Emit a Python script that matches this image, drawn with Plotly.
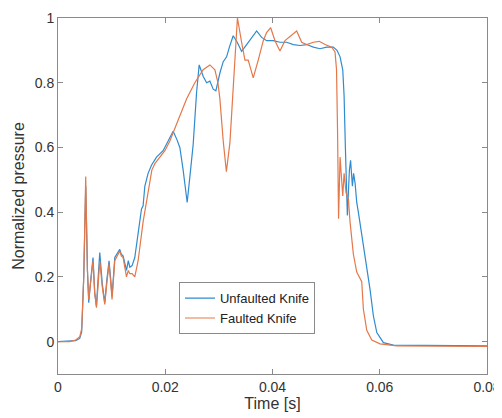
import plotly.graph_objects as go

# Unfaulted Knife (blue)
t_unfaulted = [0.0, 0.0033, 0.00405, 0.00442, 0.0048, 0.00517, 0.00549, 0.00573, 0.0061, 0.00653,
               0.00685, 0.00717, 0.0075, 0.00779, 0.00825, 0.00872, 0.0091, 0.00952, 0.00984, 0.01008,
               0.01059, 0.0112, 0.01152, 0.0118, 0.01214, 0.01277, 0.01311, 0.01339, 0.01382, 0.01432,
               0.01494, 0.01557, 0.01587, 0.01619, 0.0168, 0.01743, 0.01837, 0.0196, 0.02054, 0.02147,
               0.02216, 0.02272, 0.02334, 0.02409, 0.02472, 0.02521, 0.02584, 0.02633, 0.02707, 0.02771,
               0.02832, 0.02894, 0.02944, 0.03019, 0.03081, 0.03144, 0.03196, 0.03267, 0.03342, 0.03424,
               0.03518, 0.03611, 0.03704, 0.03798, 0.03891, 0.04014, 0.04139, 0.04264, 0.04388, 0.04513,
               0.04638, 0.04761, 0.04886, 0.05011, 0.05134, 0.05203, 0.0526, 0.0531, 0.05335, 0.05359,
               0.05396, 0.05434, 0.05456, 0.0549, 0.05512, 0.0554, 0.05571, 0.05601, 0.05695, 0.05788,
               0.0582, 0.05881, 0.05945, 0.06068, 0.06255, 0.08]
p_unfaulted = [0.0, 0.003, 0.01, 0.03, 0.2, 0.48, 0.22, 0.12, 0.19, 0.26,
               0.15, 0.11, 0.2, 0.275, 0.18, 0.12, 0.19, 0.25, 0.19, 0.14,
               0.26, 0.275, 0.285, 0.27, 0.265, 0.22, 0.25, 0.23, 0.235, 0.26,
               0.33, 0.41, 0.42, 0.48, 0.52, 0.545, 0.57, 0.59, 0.62, 0.65,
               0.625, 0.6, 0.53, 0.43, 0.53, 0.61, 0.77, 0.855, 0.82, 0.8,
               0.805, 0.78, 0.775, 0.83, 0.865, 0.88, 0.91, 0.945, 0.925, 0.897,
               0.918, 0.94, 0.96, 0.94, 0.93, 0.93, 0.925, 0.925, 0.918, 0.915,
               0.918, 0.91, 0.905, 0.91, 0.91, 0.9, 0.88, 0.84, 0.76, 0.6,
               0.39, 0.53, 0.56, 0.48, 0.52, 0.49, 0.43, 0.4, 0.295, 0.2,
               0.16, 0.08, 0.028, -0.003, -0.011, -0.013]

# Faulted Knife (orange)
t_faulted = [0.0, 0.00218, 0.0033, 0.00405, 0.00442, 0.0048, 0.00517, 0.00549, 0.00573, 0.0061,
             0.00653, 0.00685, 0.00717, 0.0075, 0.00779, 0.00825, 0.00872, 0.0091, 0.00952, 0.00984,
             0.01008, 0.01059, 0.0112, 0.01152, 0.0118, 0.01214, 0.01277, 0.01311, 0.01339, 0.01382,
             0.01432, 0.01494, 0.01587, 0.0168, 0.0175, 0.01806, 0.019, 0.01993, 0.02086, 0.02147,
             0.02272, 0.02397, 0.02552, 0.02707, 0.02832, 0.02926, 0.02982, 0.03019, 0.03081, 0.0314,
             0.03206, 0.03267, 0.03308, 0.03346, 0.03424, 0.03486, 0.03547, 0.03641, 0.03734, 0.03828,
             0.0389, 0.03966, 0.04046, 0.04139, 0.04233, 0.04339, 0.04451, 0.04544, 0.04638, 0.04761,
             0.04873, 0.0498, 0.05105, 0.05166, 0.05194, 0.05213, 0.05232, 0.0526, 0.05284, 0.0531,
             0.05335, 0.05372, 0.05415, 0.05446, 0.05508, 0.05571, 0.05664, 0.05695, 0.05758, 0.05851,
             0.06006, 0.06318, 0.08]
p_faulted = [0.0, 0.0, 0.005, 0.015, 0.04, 0.2, 0.51, 0.22, 0.13, 0.18,
             0.25, 0.15, 0.105, 0.18, 0.25, 0.17, 0.115, 0.18, 0.24, 0.18,
             0.13, 0.25, 0.27, 0.28, 0.265, 0.26, 0.2, 0.22, 0.21, 0.21,
             0.2, 0.25, 0.37, 0.47, 0.53, 0.55, 0.57, 0.59, 0.62, 0.645,
             0.7, 0.75, 0.8, 0.84, 0.855, 0.84, 0.8, 0.75, 0.62, 0.525,
             0.615, 0.77, 0.9, 1.0, 0.925, 0.87, 0.87, 0.815, 0.87, 0.93,
             0.955, 0.97, 0.93, 0.898, 0.93, 0.944, 0.96, 0.925, 0.918, 0.925,
             0.928, 0.918, 0.91, 0.895, 0.84, 0.65, 0.38, 0.57, 0.52, 0.45,
             0.52, 0.46, 0.44, 0.37, 0.27, 0.215, 0.185, 0.1, 0.035, 0.005,
             -0.007, -0.013, -0.015]

x_ticks = [0, 0.02, 0.04, 0.06, 0.08]
x_tick_labels = ["0", "0.02", "0.04", "0.06", "0.08"]
y_ticks = [0, 0.2, 0.4, 0.6, 0.8, 1]
y_tick_labels = ["0", "0.2", "0.4", "0.6", "0.8", "1"]

blue = "#2f8bd0"
orange = "#e4784a"
axis_grey = "#8a8a8a"
text_col = "#333333"
font_family = "Liberation Sans, Arial, sans-serif"

fig = go.Figure()
fig.add_trace(go.Scatter(x=t_unfaulted, y=p_unfaulted, mode="lines", name="Unfaulted Knife",
                         line=dict(color=blue, width=1.2)))
fig.add_trace(go.Scatter(x=t_faulted, y=p_faulted, mode="lines", name="Faulted Knife",
                         line=dict(color=orange, width=1.2)))

axis_common = dict(showline=True, linecolor=axis_grey, linewidth=1, mirror="ticks",
                   ticks="inside", ticklen=5, tickcolor=axis_grey, showgrid=False,
                   zeroline=False, automargin=False,
                   tickfont=dict(size=14, color=text_col, family=font_family))

fig.update_xaxes(range=[0, 0.08], tickvals=x_ticks, ticktext=x_tick_labels,
                 title=dict(text="Time [s]", font=dict(size=16, color=text_col, family=font_family),
                            standoff=3),
                 **axis_common)
fig.update_yaxes(range=[-0.1, 1], tickvals=y_ticks, ticktext=y_tick_labels,
                 title=dict(text="Normalized pressure", font=dict(size=16, color=text_col, family=font_family),
                            standoff=6),
                 **axis_common)

# page body has an 8px margin, so the figure is sized/offset to fit the 502x418 window
fig.update_layout(
    width=494, height=410,
    margin=dict(l=50, r=15, t=10, b=44),
    paper_bgcolor="white", plot_bgcolor="white",
    font=dict(family=font_family, color=text_col),
    showlegend=True,
    legend=dict(x=0.282, y=0.258, xanchor="left", yanchor="top",
                bgcolor="white", bordercolor=axis_grey, borderwidth=1,
                font=dict(size=13, color="#222222", family=font_family), tracegroupgap=0),
)

fig.write_html("out.html")
